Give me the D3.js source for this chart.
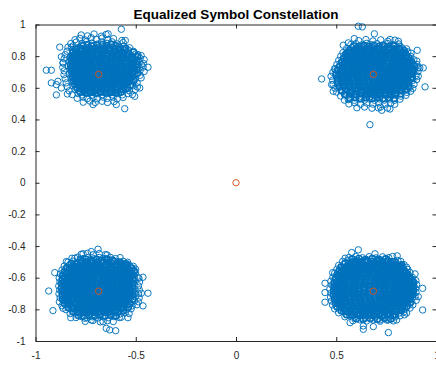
<!DOCTYPE html>
<html>
<head>
<meta charset="utf-8">
<script src="https://cdn.jsdelivr.net/npm/d3@7"></script>
<style>
  body { margin: 0; background: #fff; }
  svg { display: block; }
  text { font-family: "Liberation Sans", Arial, Helvetica, sans-serif; }
</style>
</head>
<body>
<svg id="chart" width="436" height="367"></svg>
<script>
// Equalized received symbols, grouped by quadrant (outer spread + dense core)
const symbolsTL = [
  [-0.572,0.970],[-0.638,0.941],[-0.552,0.899],[-0.569,0.899],[-0.879,0.857],[-0.871,0.796],[-0.946,0.711],[-0.921,0.711],
  [-0.439,0.730],[-0.896,0.555],[-0.841,0.561],[-0.555,0.468],[-0.597,0.494],[-0.713,0.494],[-0.921,0.631],[-0.896,0.620],
  [-0.863,0.757],[-0.888,0.641],[-0.871,0.599],[-0.489,0.810],[-0.472,0.747],[-0.480,0.599],[-0.505,0.546],[-0.821,0.857],
  [-0.772,0.934],[-0.741,0.928],[-0.708,0.940],[-0.672,0.926],[-0.648,0.937],
  [-0.803,0.904],[-0.779,0.913],[-0.751,0.902],[-0.722,0.916],[-0.697,0.906],[-0.668,0.914],[-0.639,0.903],[-0.611,0.911],
  [-0.824,0.879],[-0.797,0.889],[-0.768,0.881],[-0.746,0.892],[-0.718,0.883],[-0.692,0.876],[-0.671,0.889],[-0.643,0.881],[-0.619,0.891],[-0.592,0.877],[-0.563,0.886],
  [-0.838,0.857],[-0.812,0.865],[-0.783,0.854],[-0.762,0.863],[-0.733,0.853],[-0.709,0.867],[-0.687,0.857],[-0.658,0.864],[-0.637,0.855],[-0.607,0.866],[-0.586,0.857],[-0.558,0.862],[-0.531,0.853],
  [-0.843,0.831],[-0.817,0.839],[-0.792,0.828],[-0.766,0.841],[-0.738,0.833],[-0.717,0.826],[-0.689,0.839],[-0.662,0.830],[-0.642,0.842],[-0.613,0.829],[-0.588,0.837],[-0.567,0.828],[-0.538,0.839],[-0.512,0.831],
  [-0.852,0.809],[-0.823,0.803],[-0.801,0.815],[-0.773,0.805],[-0.752,0.813],[-0.722,0.802],[-0.703,0.815],[-0.674,0.807],[-0.652,0.813],[-0.622,0.803],[-0.601,0.811],[-0.573,0.805],[-0.552,0.815],[-0.522,0.805],[-0.502,0.812],[-0.473,0.804],
  [-0.857,0.784],[-0.828,0.791],[-0.807,0.781],[-0.778,0.789],[-0.757,0.779],[-0.727,0.791],[-0.706,0.783],[-0.678,0.792],[-0.657,0.779],[-0.628,0.788],[-0.607,0.781],[-0.578,0.791],[-0.557,0.783],[-0.528,0.789],[-0.507,0.779],[-0.478,0.786],[-0.458,0.778],
  [-0.862,0.757],[-0.833,0.765],[-0.812,0.754],[-0.783,0.763],[-0.762,0.753],[-0.733,0.766],[-0.712,0.757],[-0.683,0.763],[-0.662,0.753],[-0.633,0.765],[-0.612,0.757],[-0.583,0.763],[-0.562,0.755],[-0.533,0.765],[-0.512,0.757],[-0.483,0.763],[-0.462,0.754],
  [-0.864,0.729],[-0.838,0.739],[-0.817,0.731],[-0.788,0.739],[-0.767,0.728],[-0.738,0.737],[-0.717,0.727],[-0.688,0.739],[-0.667,0.731],[-0.638,0.739],[-0.617,0.729],[-0.588,0.737],[-0.567,0.727],[-0.538,0.737],[-0.517,0.729],[-0.488,0.739],[-0.463,0.731],
  [-0.857,0.707],[-0.828,0.715],[-0.807,0.705],[-0.778,0.713],[-0.757,0.703],[-0.728,0.715],[-0.707,0.707],[-0.678,0.713],[-0.657,0.703],[-0.628,0.715],[-0.607,0.707],[-0.578,0.713],[-0.557,0.705],[-0.528,0.715],[-0.507,0.707],[-0.478,0.711],[-0.458,0.703],
  [-0.858,0.683],[-0.832,0.689],[-0.803,0.679],[-0.782,0.689],[-0.753,0.681],[-0.732,0.691],[-0.703,0.679],[-0.682,0.687],[-0.653,0.691],[-0.632,0.681],[-0.603,0.689],[-0.582,0.679],[-0.553,0.687],[-0.532,0.681],[-0.503,0.689],[-0.478,0.679],
  [-0.852,0.657],[-0.823,0.665],[-0.802,0.655],[-0.773,0.663],[-0.752,0.654],[-0.723,0.665],[-0.702,0.657],[-0.673,0.663],[-0.652,0.654],[-0.623,0.665],[-0.602,0.657],[-0.573,0.663],[-0.552,0.655],[-0.523,0.663],[-0.502,0.655],[-0.473,0.663],
  [-0.847,0.631],[-0.818,0.639],[-0.797,0.629],[-0.768,0.639],[-0.747,0.631],[-0.718,0.639],[-0.697,0.629],[-0.668,0.637],[-0.647,0.631],[-0.618,0.639],[-0.597,0.629],[-0.568,0.637],[-0.547,0.631],[-0.518,0.639],[-0.493,0.631],
  [-0.842,0.607],[-0.813,0.613],[-0.792,0.604],[-0.763,0.613],[-0.742,0.605],[-0.713,0.615],[-0.692,0.605],[-0.663,0.613],[-0.642,0.604],[-0.613,0.613],[-0.592,0.605],[-0.563,0.615],[-0.542,0.607],[-0.513,0.613],[-0.492,0.605],
  [-0.832,0.581],[-0.803,0.589],[-0.782,0.579],[-0.753,0.589],[-0.732,0.581],[-0.703,0.589],[-0.682,0.579],[-0.653,0.587],[-0.632,0.581],[-0.603,0.589],[-0.582,0.579],[-0.553,0.587],[-0.532,0.581],[-0.503,0.589],
  [-0.817,0.557],[-0.788,0.563],[-0.767,0.555],[-0.738,0.565],[-0.717,0.555],[-0.688,0.563],[-0.667,0.557],[-0.638,0.565],[-0.617,0.555],[-0.588,0.563],[-0.567,0.555],[-0.538,0.563],[-0.517,0.557],
  [-0.792,0.534],[-0.763,0.541],[-0.742,0.531],[-0.713,0.539],[-0.692,0.531],[-0.663,0.541],[-0.642,0.533],[-0.613,0.541],[-0.592,0.531],[-0.563,0.539],
  [-0.762,0.509],[-0.728,0.516],[-0.702,0.507],[-0.668,0.515],[-0.641,0.507],[-0.608,0.513]
];
const coreTL = [
  [-0.764,0.866],[-0.741,0.872],[-0.719,0.863],[-0.694,0.869],[-0.667,0.871],[-0.646,0.866],[-0.622,0.873],[-0.598,0.864],
  [-0.799,0.843],[-0.776,0.849],[-0.749,0.845],[-0.726,0.842],[-0.701,0.848],[-0.676,0.844],[-0.651,0.849],[-0.627,0.843],[-0.601,0.847],[-0.577,0.842],[-0.551,0.848],
  [-0.812,0.822],[-0.787,0.817],[-0.761,0.823],[-0.737,0.819],[-0.713,0.824],[-0.687,0.818],[-0.664,0.822],[-0.638,0.817],[-0.612,0.823],[-0.589,0.818],[-0.563,0.821],[-0.537,0.817],[-0.511,0.823],
  [-0.816,0.794],[-0.790,0.799],[-0.766,0.795],[-0.742,0.798],[-0.716,0.793],[-0.691,0.799],[-0.667,0.795],[-0.641,0.798],[-0.617,0.794],[-0.592,0.799],[-0.566,0.795],[-0.541,0.798],[-0.517,0.793],[-0.492,0.797],
  [-0.821,0.774],[-0.796,0.769],[-0.771,0.773],[-0.746,0.768],[-0.720,0.774],[-0.695,0.770],[-0.671,0.774],[-0.645,0.769],[-0.620,0.773],[-0.596,0.768],[-0.571,0.774],[-0.546,0.770],[-0.521,0.773],[-0.496,0.768],
  [-0.824,0.743],[-0.799,0.748],[-0.774,0.744],[-0.749,0.747],[-0.724,0.742],[-0.699,0.748],[-0.674,0.743],[-0.649,0.747],[-0.624,0.744],[-0.599,0.749],[-0.574,0.743],[-0.549,0.747],[-0.524,0.742],[-0.499,0.748],
  [-0.821,0.723],[-0.795,0.718],[-0.770,0.722],[-0.745,0.717],[-0.720,0.723],[-0.695,0.719],[-0.670,0.722],[-0.645,0.718],[-0.620,0.723],[-0.595,0.717],[-0.570,0.722],[-0.545,0.718],[-0.520,0.723],[-0.495,0.717],
  [-0.818,0.698],[-0.792,0.693],[-0.767,0.697],[-0.742,0.692],[-0.717,0.698],[-0.692,0.694],[-0.667,0.697],[-0.642,0.693],[-0.617,0.698],[-0.592,0.692],[-0.567,0.697],[-0.542,0.693],[-0.517,0.698],[-0.492,0.694],
  [-0.815,0.673],[-0.790,0.668],[-0.765,0.672],[-0.740,0.667],[-0.715,0.673],[-0.690,0.669],[-0.665,0.672],[-0.640,0.668],[-0.615,0.673],[-0.590,0.667],[-0.565,0.672],[-0.540,0.668],[-0.515,0.673],
  [-0.810,0.648],[-0.785,0.643],[-0.760,0.647],[-0.735,0.642],[-0.710,0.648],[-0.685,0.644],[-0.660,0.647],[-0.635,0.643],[-0.610,0.648],[-0.585,0.642],[-0.560,0.647],[-0.535,0.643],[-0.510,0.648],
  [-0.804,0.623],[-0.778,0.618],[-0.753,0.622],[-0.728,0.617],[-0.703,0.623],[-0.678,0.619],[-0.653,0.622],[-0.628,0.618],[-0.603,0.623],[-0.578,0.617],[-0.553,0.622],[-0.528,0.618],
  [-0.792,0.598],[-0.767,0.593],[-0.742,0.597],[-0.717,0.592],[-0.692,0.598],[-0.667,0.594],[-0.642,0.597],[-0.617,0.593],[-0.592,0.598],[-0.567,0.592],[-0.542,0.597],
  [-0.775,0.573],[-0.750,0.568],[-0.725,0.572],[-0.700,0.567],[-0.675,0.573],[-0.650,0.569],[-0.625,0.572],[-0.600,0.568],[-0.575,0.573],
  [-0.771,0.838],[-0.745,0.835],[-0.717,0.840],[-0.690,0.836],[-0.664,0.839],[-0.636,0.834],[-0.609,0.839],[-0.583,0.835],[-0.556,0.838],
  [-0.804,0.811],[-0.778,0.808],[-0.751,0.813],[-0.724,0.809],[-0.697,0.812],[-0.670,0.807],[-0.643,0.812],[-0.616,0.808],[-0.590,0.813],[-0.563,0.809],[-0.536,0.812],
  [-0.811,0.786],[-0.784,0.783],[-0.757,0.788],[-0.731,0.784],[-0.704,0.787],[-0.677,0.782],[-0.650,0.787],[-0.623,0.783],[-0.596,0.788],[-0.570,0.784],[-0.543,0.787],[-0.517,0.782],
  [-0.813,0.760],[-0.787,0.757],[-0.760,0.762],[-0.733,0.758],[-0.706,0.761],[-0.679,0.756],[-0.652,0.761],[-0.625,0.757],[-0.598,0.762],[-0.572,0.758],[-0.545,0.761],[-0.518,0.756],
  [-0.810,0.734],[-0.783,0.731],[-0.756,0.736],[-0.729,0.732],[-0.702,0.735],[-0.675,0.730],[-0.648,0.735],[-0.621,0.731],[-0.594,0.736],[-0.568,0.732],[-0.541,0.735],[-0.514,0.730],
  [-0.808,0.708],[-0.781,0.705],[-0.754,0.710],[-0.727,0.706],[-0.700,0.709],[-0.673,0.704],[-0.646,0.709],[-0.619,0.705],[-0.592,0.710],[-0.566,0.706],[-0.539,0.709],[-0.512,0.704],
  [-0.805,0.682],[-0.778,0.679],[-0.751,0.684],[-0.724,0.680],[-0.697,0.683],[-0.670,0.678],[-0.643,0.683],[-0.616,0.679],[-0.589,0.684],[-0.563,0.680],[-0.536,0.683],
  [-0.799,0.656],[-0.772,0.653],[-0.745,0.658],[-0.718,0.654],[-0.691,0.657],[-0.664,0.652],[-0.637,0.657],[-0.610,0.653],[-0.583,0.658],[-0.557,0.654],[-0.530,0.657],
  [-0.791,0.630],[-0.764,0.627],[-0.737,0.632],[-0.710,0.628],[-0.683,0.631],[-0.656,0.626],[-0.629,0.631],[-0.602,0.627],[-0.575,0.632],[-0.549,0.628],
  [-0.779,0.604],[-0.752,0.601],[-0.725,0.606],[-0.698,0.602],[-0.671,0.605],[-0.644,0.600],[-0.617,0.605],[-0.590,0.601],[-0.563,0.606],
  [-0.758,0.580],[-0.731,0.577],[-0.704,0.582],[-0.677,0.578],[-0.650,0.581],[-0.623,0.576],[-0.596,0.581]
];

const symbolsTR = [
  [0.610,0.989],[0.630,0.985],[0.690,0.941],[0.590,0.911],[0.535,0.869],[0.560,0.884],[0.585,0.837],[0.555,0.825],
  [0.768,0.905],[0.810,0.894],[0.785,0.863],[0.818,0.863],[0.904,0.837],[0.427,0.656],[0.943,0.606],[0.909,0.673],
  [0.934,0.726],[0.909,0.726],[0.668,0.367],[0.768,0.466],[0.727,0.458],[0.710,0.473],[0.485,0.578],[0.477,0.620],[0.494,0.715],[0.560,0.525],
  [0.612,0.898],[0.648,0.905],[0.683,0.896],[0.722,0.903],[0.757,0.894],[0.793,0.901],
  [0.573,0.873],[0.598,0.879],[0.627,0.871],[0.652,0.881],[0.678,0.872],[0.703,0.879],[0.731,0.870],[0.756,0.880],[0.783,0.872],[0.812,0.877],
  [0.552,0.848],[0.578,0.854],[0.602,0.846],[0.628,0.856],[0.652,0.847],[0.678,0.854],[0.703,0.845],[0.728,0.855],[0.753,0.847],[0.778,0.853],[0.803,0.845],[0.828,0.852],[0.851,0.846],
  [0.533,0.822],[0.557,0.828],[0.583,0.820],[0.607,0.830],[0.632,0.821],[0.657,0.828],[0.682,0.820],[0.707,0.829],[0.732,0.821],[0.757,0.828],[0.782,0.820],[0.807,0.829],[0.832,0.822],[0.857,0.827],[0.873,0.819],
  [0.522,0.799],[0.547,0.805],[0.572,0.797],[0.597,0.806],[0.622,0.798],[0.647,0.804],[0.672,0.796],[0.697,0.805],[0.722,0.797],[0.747,0.804],[0.772,0.796],[0.797,0.805],[0.822,0.797],[0.847,0.804],[0.872,0.798],
  [0.512,0.773],[0.537,0.779],[0.562,0.771],[0.587,0.780],[0.612,0.772],[0.637,0.779],[0.662,0.771],[0.687,0.780],[0.712,0.772],[0.737,0.779],[0.762,0.771],[0.787,0.780],[0.812,0.772],[0.837,0.778],[0.862,0.771],[0.887,0.777],[0.902,0.769],
  [0.503,0.748],[0.528,0.754],[0.553,0.746],[0.578,0.755],[0.603,0.747],[0.628,0.754],[0.653,0.746],[0.678,0.755],[0.703,0.747],[0.728,0.754],[0.753,0.746],[0.778,0.755],[0.803,0.747],[0.828,0.754],[0.853,0.746],[0.878,0.753],[0.903,0.747],
  [0.492,0.722],[0.517,0.729],[0.542,0.721],[0.567,0.730],[0.592,0.722],[0.617,0.729],[0.642,0.720],[0.667,0.730],[0.692,0.722],[0.717,0.729],[0.742,0.721],[0.767,0.730],[0.792,0.722],[0.817,0.729],[0.842,0.721],[0.867,0.728],[0.892,0.720],[0.917,0.726],
  [0.483,0.698],[0.508,0.704],[0.533,0.696],[0.558,0.705],[0.583,0.697],[0.608,0.704],[0.633,0.696],[0.658,0.705],[0.683,0.697],[0.708,0.704],[0.733,0.696],[0.758,0.705],[0.783,0.697],[0.808,0.704],[0.833,0.696],[0.858,0.703],[0.883,0.697],[0.908,0.702],
  [0.474,0.673],[0.498,0.679],[0.523,0.671],[0.548,0.680],[0.573,0.672],[0.598,0.679],[0.623,0.671],[0.648,0.680],[0.673,0.672],[0.698,0.679],[0.723,0.671],[0.748,0.680],[0.773,0.672],[0.798,0.679],[0.823,0.671],[0.848,0.678],[0.873,0.671],[0.898,0.677],
  [0.482,0.648],[0.507,0.654],[0.532,0.646],[0.557,0.655],[0.582,0.647],[0.607,0.654],[0.632,0.646],[0.657,0.655],[0.682,0.647],[0.707,0.654],[0.732,0.646],[0.757,0.655],[0.782,0.647],[0.807,0.654],[0.832,0.646],[0.857,0.653],[0.882,0.647],[0.901,0.652],
  [0.484,0.622],[0.511,0.629],[0.536,0.621],[0.561,0.630],[0.586,0.622],[0.611,0.629],[0.636,0.621],[0.661,0.630],[0.686,0.622],[0.711,0.629],[0.736,0.621],[0.761,0.630],[0.786,0.622],[0.811,0.629],[0.836,0.621],[0.861,0.628],[0.888,0.622],
  [0.493,0.598],[0.518,0.604],[0.543,0.596],[0.568,0.605],[0.593,0.597],[0.618,0.604],[0.643,0.596],[0.668,0.605],[0.693,0.597],[0.718,0.604],[0.743,0.596],[0.768,0.605],[0.793,0.597],[0.818,0.604],[0.843,0.596],[0.868,0.603],[0.882,0.596],
  [0.502,0.573],[0.527,0.579],[0.552,0.571],[0.577,0.580],[0.602,0.572],[0.627,0.579],[0.652,0.571],[0.677,0.580],[0.702,0.572],[0.727,0.579],[0.752,0.571],[0.777,0.580],[0.802,0.572],[0.827,0.579],[0.852,0.571],[0.871,0.578],
  [0.522,0.548],[0.547,0.554],[0.572,0.546],[0.597,0.555],[0.622,0.547],[0.647,0.554],[0.672,0.546],[0.697,0.555],[0.722,0.547],[0.747,0.554],[0.772,0.546],[0.797,0.555],[0.822,0.547],[0.848,0.553],
  [0.541,0.522],[0.566,0.529],[0.591,0.521],[0.616,0.530],[0.641,0.522],[0.666,0.529],[0.691,0.521],[0.716,0.530],[0.741,0.522],[0.766,0.529],[0.791,0.521],[0.818,0.528],
  [0.563,0.498],[0.592,0.505],[0.621,0.496],[0.652,0.504],[0.683,0.497],[0.712,0.505],[0.743,0.497],[0.772,0.503],[0.792,0.496],
  [0.603,0.474],[0.641,0.479],[0.678,0.471],[0.721,0.478],[0.756,0.472]
];
const coreTR = [
  [0.588,0.863],[0.613,0.859],[0.638,0.865],[0.663,0.861],[0.688,0.866],[0.713,0.860],[0.738,0.864],[0.763,0.859],[0.788,0.865],
  [0.566,0.838],[0.591,0.834],[0.616,0.840],[0.641,0.835],[0.666,0.839],[0.691,0.833],[0.716,0.840],[0.741,0.834],[0.766,0.838],[0.791,0.835],[0.816,0.839],[0.838,0.834],
  [0.547,0.810],[0.572,0.814],[0.597,0.809],[0.622,0.815],[0.647,0.810],[0.672,0.813],[0.697,0.808],[0.722,0.814],[0.747,0.810],[0.772,0.815],[0.797,0.809],[0.822,0.813],[0.847,0.808],
  [0.537,0.786],[0.562,0.790],[0.587,0.784],[0.612,0.789],[0.637,0.785],[0.662,0.790],[0.687,0.784],[0.712,0.788],[0.737,0.785],[0.762,0.790],[0.787,0.784],[0.812,0.789],[0.837,0.785],[0.862,0.789],
  [0.527,0.760],[0.552,0.764],[0.577,0.759],[0.602,0.764],[0.627,0.759],[0.652,0.763],[0.677,0.758],[0.702,0.764],[0.727,0.760],[0.752,0.763],[0.777,0.758],[0.802,0.764],[0.827,0.759],[0.852,0.763],[0.877,0.759],
  [0.517,0.735],[0.542,0.739],[0.567,0.734],[0.592,0.740],[0.617,0.734],[0.642,0.738],[0.667,0.733],[0.692,0.739],[0.717,0.735],[0.742,0.738],[0.767,0.733],[0.792,0.739],[0.817,0.734],[0.842,0.738],[0.867,0.733],[0.890,0.737],
  [0.507,0.710],[0.532,0.713],[0.557,0.708],[0.582,0.714],[0.607,0.709],[0.632,0.713],[0.657,0.708],[0.682,0.714],[0.707,0.709],[0.732,0.712],[0.757,0.707],[0.782,0.713],[0.807,0.709],[0.832,0.713],[0.857,0.708],[0.882,0.712],
  [0.500,0.686],[0.525,0.689],[0.550,0.684],[0.575,0.690],[0.600,0.685],[0.625,0.688],[0.650,0.683],[0.675,0.689],[0.700,0.685],[0.725,0.688],[0.750,0.683],[0.775,0.689],[0.800,0.684],[0.825,0.688],[0.850,0.683],[0.875,0.688],
  [0.505,0.660],[0.530,0.664],[0.555,0.659],[0.580,0.664],[0.605,0.659],[0.630,0.663],[0.655,0.658],[0.680,0.664],[0.705,0.660],[0.730,0.663],[0.755,0.658],[0.780,0.664],[0.805,0.659],[0.830,0.663],[0.855,0.658],[0.878,0.662],
  [0.508,0.635],[0.533,0.639],[0.558,0.634],[0.583,0.639],[0.608,0.634],[0.633,0.638],[0.658,0.633],[0.683,0.639],[0.708,0.635],[0.733,0.638],[0.758,0.633],[0.783,0.639],[0.808,0.634],[0.833,0.638],[0.860,0.633],
  [0.515,0.610],[0.540,0.614],[0.565,0.609],[0.590,0.614],[0.615,0.609],[0.640,0.613],[0.665,0.608],[0.690,0.614],[0.715,0.610],[0.740,0.613],[0.765,0.608],[0.790,0.614],[0.815,0.609],[0.840,0.613],[0.860,0.608],
  [0.525,0.585],[0.550,0.589],[0.575,0.584],[0.600,0.589],[0.625,0.584],[0.650,0.588],[0.675,0.583],[0.700,0.589],[0.725,0.585],[0.750,0.588],[0.775,0.583],[0.800,0.589],[0.825,0.584],[0.848,0.588],
  [0.543,0.560],[0.568,0.564],[0.593,0.559],[0.618,0.564],[0.643,0.559],[0.668,0.563],[0.693,0.558],[0.718,0.564],[0.743,0.560],[0.768,0.563],[0.793,0.558],[0.820,0.562],
  [0.568,0.535],[0.595,0.538],[0.622,0.533],[0.650,0.539],[0.678,0.534],[0.705,0.538],[0.733,0.533],[0.760,0.538],[0.788,0.534],
  [0.600,0.846],[0.627,0.843],[0.654,0.848],[0.681,0.844],[0.708,0.847],[0.735,0.842],[0.762,0.847],[0.789,0.843],[0.814,0.846],
  [0.566,0.821],[0.593,0.818],[0.620,0.823],[0.647,0.819],[0.674,0.822],[0.701,0.817],[0.728,0.822],[0.755,0.818],[0.782,0.823],[0.809,0.819],[0.836,0.822],
  [0.553,0.796],[0.580,0.793],[0.607,0.798],[0.634,0.794],[0.661,0.797],[0.688,0.792],[0.715,0.797],[0.742,0.793],[0.769,0.798],[0.796,0.794],[0.823,0.797],[0.850,0.792],
  [0.544,0.770],[0.571,0.767],[0.598,0.772],[0.625,0.768],[0.652,0.771],[0.679,0.766],[0.706,0.771],[0.733,0.767],[0.760,0.772],[0.787,0.768],[0.814,0.771],[0.841,0.766],[0.866,0.770],
  [0.536,0.744],[0.563,0.741],[0.590,0.746],[0.617,0.742],[0.644,0.745],[0.671,0.740],[0.698,0.745],[0.725,0.741],[0.752,0.746],[0.779,0.742],[0.806,0.745],[0.833,0.740],[0.860,0.745],
  [0.528,0.718],[0.555,0.715],[0.582,0.720],[0.609,0.716],[0.636,0.719],[0.663,0.714],[0.690,0.719],[0.717,0.715],[0.744,0.720],[0.771,0.716],[0.798,0.719],[0.825,0.714],[0.852,0.719],[0.876,0.715],
  [0.523,0.692],[0.550,0.689],[0.577,0.694],[0.604,0.690],[0.631,0.693],[0.658,0.688],[0.685,0.693],[0.712,0.689],[0.739,0.694],[0.766,0.690],[0.793,0.693],[0.820,0.688],[0.847,0.693],[0.872,0.689],
  [0.525,0.666],[0.552,0.663],[0.579,0.668],[0.606,0.664],[0.633,0.667],[0.660,0.662],[0.687,0.667],[0.714,0.663],[0.741,0.668],[0.768,0.664],[0.795,0.667],[0.822,0.662],[0.849,0.667],[0.872,0.663],
  [0.530,0.640],[0.557,0.637],[0.584,0.642],[0.611,0.638],[0.638,0.641],[0.665,0.636],[0.692,0.641],[0.719,0.637],[0.746,0.642],[0.773,0.638],[0.800,0.641],[0.827,0.636],[0.852,0.641],
  [0.537,0.614],[0.564,0.611],[0.591,0.616],[0.618,0.612],[0.645,0.615],[0.672,0.610],[0.699,0.615],[0.726,0.611],[0.753,0.616],[0.780,0.612],[0.807,0.615],[0.834,0.610],
  [0.550,0.588],[0.577,0.585],[0.604,0.590],[0.631,0.586],[0.658,0.589],[0.685,0.584],[0.712,0.589],[0.739,0.585],[0.766,0.590],[0.793,0.586],[0.820,0.589],
  [0.572,0.562],[0.600,0.559],[0.628,0.564],[0.656,0.560],[0.684,0.563],[0.712,0.558],[0.740,0.563],[0.768,0.559],[0.795,0.562]
];

const symbolsBL = [
  [-0.688,-0.420],[-0.722,-0.435],[-0.643,-0.456],[-0.763,-0.449],[-0.804,-0.477],[-0.846,-0.498],[-0.904,-0.568],[-0.934,-0.684],
  [-0.913,-0.808],[-0.863,-0.793],[-0.824,-0.853],[-0.439,-0.698],[-0.472,-0.698],[-0.464,-0.597],[-0.489,-0.599],[-0.464,-0.778],
  [-0.539,-0.853],[-0.572,-0.850],[-0.630,-0.930],[-0.600,-0.935],[-0.647,-0.920],[-0.663,-0.878],[-0.722,-0.867],[-0.755,-0.856],[-0.547,-0.525],[-0.572,-0.519],
  [-0.772,-0.452],[-0.741,-0.446],[-0.712,-0.455],[-0.682,-0.447],[-0.651,-0.454],
  [-0.818,-0.477],[-0.791,-0.471],[-0.763,-0.479],[-0.737,-0.472],[-0.708,-0.480],[-0.682,-0.472],[-0.653,-0.478],[-0.627,-0.471],[-0.601,-0.479],[-0.578,-0.473],
  [-0.838,-0.502],[-0.813,-0.496],[-0.788,-0.504],[-0.763,-0.497],[-0.738,-0.505],[-0.713,-0.497],[-0.688,-0.503],[-0.663,-0.496],[-0.638,-0.504],[-0.613,-0.497],[-0.588,-0.503],[-0.563,-0.496],[-0.541,-0.502],
  [-0.857,-0.527],[-0.832,-0.521],[-0.807,-0.529],[-0.782,-0.522],[-0.757,-0.530],[-0.732,-0.522],[-0.707,-0.528],[-0.682,-0.521],[-0.657,-0.529],[-0.632,-0.522],[-0.607,-0.528],[-0.582,-0.521],[-0.557,-0.529],[-0.532,-0.522],[-0.512,-0.528],
  [-0.868,-0.552],[-0.843,-0.546],[-0.818,-0.554],[-0.793,-0.547],[-0.768,-0.555],[-0.743,-0.547],[-0.718,-0.553],[-0.693,-0.546],[-0.668,-0.554],[-0.643,-0.547],[-0.618,-0.553],[-0.593,-0.546],[-0.568,-0.554],[-0.543,-0.547],[-0.518,-0.553],[-0.501,-0.546],
  [-0.876,-0.577],[-0.851,-0.571],[-0.826,-0.579],[-0.801,-0.572],[-0.776,-0.580],[-0.751,-0.572],[-0.726,-0.578],[-0.701,-0.571],[-0.676,-0.579],[-0.651,-0.572],[-0.626,-0.578],[-0.601,-0.571],[-0.576,-0.579],[-0.551,-0.572],[-0.526,-0.578],[-0.501,-0.571],
  [-0.882,-0.602],[-0.857,-0.596],[-0.832,-0.604],[-0.807,-0.597],[-0.782,-0.605],[-0.757,-0.597],[-0.732,-0.603],[-0.707,-0.596],[-0.682,-0.604],[-0.657,-0.597],[-0.632,-0.603],[-0.607,-0.596],[-0.582,-0.604],[-0.557,-0.597],[-0.532,-0.603],[-0.507,-0.596],[-0.484,-0.603],
  [-0.878,-0.627],[-0.853,-0.621],[-0.828,-0.629],[-0.803,-0.622],[-0.778,-0.630],[-0.753,-0.622],[-0.728,-0.628],[-0.703,-0.621],[-0.678,-0.629],[-0.653,-0.622],[-0.628,-0.628],[-0.603,-0.621],[-0.578,-0.629],[-0.553,-0.622],[-0.528,-0.628],[-0.503,-0.621],[-0.481,-0.627],
  [-0.884,-0.652],[-0.859,-0.646],[-0.834,-0.654],[-0.809,-0.647],[-0.784,-0.655],[-0.759,-0.647],[-0.734,-0.653],[-0.709,-0.646],[-0.684,-0.654],[-0.659,-0.647],[-0.634,-0.653],[-0.609,-0.646],[-0.584,-0.654],[-0.559,-0.647],[-0.534,-0.653],[-0.509,-0.646],[-0.486,-0.652],
  [-0.879,-0.677],[-0.854,-0.671],[-0.829,-0.679],[-0.804,-0.672],[-0.779,-0.680],[-0.754,-0.672],[-0.729,-0.678],[-0.704,-0.671],[-0.679,-0.679],[-0.654,-0.672],[-0.629,-0.678],[-0.604,-0.671],[-0.579,-0.679],[-0.554,-0.672],[-0.529,-0.678],[-0.504,-0.671],[-0.482,-0.677],
  [-0.883,-0.702],[-0.858,-0.696],[-0.833,-0.704],[-0.808,-0.697],[-0.783,-0.705],[-0.758,-0.697],[-0.733,-0.703],[-0.708,-0.696],[-0.683,-0.704],[-0.658,-0.697],[-0.633,-0.703],[-0.608,-0.696],[-0.583,-0.704],[-0.558,-0.697],[-0.533,-0.703],[-0.508,-0.696],[-0.486,-0.702],
  [-0.877,-0.727],[-0.852,-0.721],[-0.827,-0.729],[-0.802,-0.722],[-0.777,-0.730],[-0.752,-0.722],[-0.727,-0.728],[-0.702,-0.721],[-0.677,-0.729],[-0.652,-0.722],[-0.627,-0.728],[-0.602,-0.721],[-0.577,-0.729],[-0.552,-0.722],[-0.527,-0.728],[-0.502,-0.721],[-0.483,-0.728],
  [-0.881,-0.752],[-0.856,-0.746],[-0.831,-0.754],[-0.806,-0.747],[-0.781,-0.755],[-0.756,-0.747],[-0.731,-0.753],[-0.706,-0.746],[-0.681,-0.754],[-0.656,-0.747],[-0.631,-0.753],[-0.606,-0.746],[-0.581,-0.754],[-0.556,-0.747],[-0.531,-0.753],[-0.506,-0.746],[-0.487,-0.752],
  [-0.868,-0.777],[-0.843,-0.771],[-0.818,-0.779],[-0.793,-0.772],[-0.768,-0.780],[-0.743,-0.772],[-0.718,-0.778],[-0.693,-0.771],[-0.668,-0.779],[-0.643,-0.772],[-0.618,-0.778],[-0.593,-0.771],[-0.568,-0.779],[-0.543,-0.772],[-0.518,-0.778],[-0.494,-0.771],
  [-0.848,-0.802],[-0.823,-0.796],[-0.798,-0.804],[-0.773,-0.797],[-0.748,-0.805],[-0.723,-0.797],[-0.698,-0.803],[-0.673,-0.796],[-0.648,-0.804],[-0.623,-0.797],[-0.598,-0.803],[-0.573,-0.796],[-0.548,-0.804],[-0.523,-0.797],
  [-0.827,-0.827],[-0.802,-0.821],[-0.777,-0.829],[-0.752,-0.822],[-0.727,-0.830],[-0.702,-0.822],[-0.677,-0.828],[-0.652,-0.821],[-0.627,-0.829],[-0.602,-0.822],[-0.577,-0.828],[-0.552,-0.821],[-0.533,-0.827],
  [-0.798,-0.852],[-0.771,-0.846],[-0.744,-0.854],[-0.717,-0.847],[-0.690,-0.855],[-0.663,-0.847],[-0.636,-0.853],[-0.609,-0.846],[-0.582,-0.852],
  [-0.752,-0.876],[-0.714,-0.871],[-0.677,-0.879],[-0.641,-0.872],[-0.612,-0.877]
];
const coreBL = [
  [-0.776,-0.488],[-0.750,-0.485],[-0.724,-0.490],[-0.697,-0.486],[-0.670,-0.491],[-0.644,-0.485],[-0.617,-0.489],
  [-0.822,-0.512],[-0.797,-0.516],[-0.772,-0.510],[-0.747,-0.515],[-0.722,-0.511],[-0.697,-0.516],[-0.672,-0.510],[-0.647,-0.514],[-0.622,-0.510],[-0.597,-0.515],[-0.572,-0.511],[-0.548,-0.514],
  [-0.844,-0.538],[-0.819,-0.541],[-0.794,-0.536],[-0.769,-0.541],[-0.744,-0.535],[-0.719,-0.540],[-0.694,-0.536],[-0.669,-0.541],[-0.644,-0.535],[-0.619,-0.539],[-0.594,-0.534],[-0.569,-0.540],[-0.544,-0.536],[-0.520,-0.540],
  [-0.855,-0.563],[-0.830,-0.566],[-0.805,-0.561],[-0.780,-0.566],[-0.755,-0.560],[-0.730,-0.565],[-0.705,-0.561],[-0.680,-0.566],[-0.655,-0.560],[-0.630,-0.564],[-0.605,-0.559],[-0.580,-0.565],[-0.555,-0.561],[-0.530,-0.565],[-0.508,-0.560],
  [-0.864,-0.588],[-0.839,-0.591],[-0.814,-0.586],[-0.789,-0.591],[-0.764,-0.585],[-0.739,-0.590],[-0.714,-0.586],[-0.689,-0.591],[-0.664,-0.585],[-0.639,-0.589],[-0.614,-0.584],[-0.589,-0.590],[-0.564,-0.586],[-0.539,-0.590],[-0.514,-0.585],
  [-0.866,-0.613],[-0.841,-0.616],[-0.816,-0.611],[-0.791,-0.616],[-0.766,-0.610],[-0.741,-0.615],[-0.716,-0.611],[-0.691,-0.616],[-0.666,-0.610],[-0.641,-0.614],[-0.616,-0.609],[-0.591,-0.615],[-0.566,-0.611],[-0.541,-0.615],[-0.516,-0.610],
  [-0.868,-0.638],[-0.843,-0.641],[-0.818,-0.636],[-0.793,-0.641],[-0.768,-0.635],[-0.743,-0.640],[-0.718,-0.636],[-0.693,-0.641],[-0.668,-0.635],[-0.643,-0.639],[-0.618,-0.634],[-0.593,-0.640],[-0.568,-0.636],[-0.543,-0.640],[-0.518,-0.635],
  [-0.869,-0.663],[-0.844,-0.666],[-0.819,-0.661],[-0.794,-0.666],[-0.769,-0.660],[-0.744,-0.665],[-0.719,-0.661],[-0.694,-0.666],[-0.669,-0.660],[-0.644,-0.664],[-0.619,-0.659],[-0.594,-0.665],[-0.569,-0.661],[-0.544,-0.665],[-0.519,-0.660],
  [-0.867,-0.688],[-0.842,-0.691],[-0.817,-0.686],[-0.792,-0.691],[-0.767,-0.685],[-0.742,-0.690],[-0.717,-0.686],[-0.692,-0.691],[-0.667,-0.685],[-0.642,-0.689],[-0.617,-0.684],[-0.592,-0.690],[-0.567,-0.686],[-0.542,-0.690],[-0.517,-0.685],
  [-0.865,-0.713],[-0.840,-0.716],[-0.815,-0.711],[-0.790,-0.716],[-0.765,-0.710],[-0.740,-0.715],[-0.715,-0.711],[-0.690,-0.716],[-0.665,-0.710],[-0.640,-0.714],[-0.615,-0.709],[-0.590,-0.715],[-0.565,-0.711],[-0.540,-0.715],[-0.517,-0.710],
  [-0.863,-0.738],[-0.838,-0.741],[-0.813,-0.736],[-0.788,-0.741],[-0.763,-0.735],[-0.738,-0.740],[-0.713,-0.736],[-0.688,-0.741],[-0.663,-0.735],[-0.638,-0.739],[-0.613,-0.734],[-0.588,-0.740],[-0.563,-0.736],[-0.538,-0.740],[-0.516,-0.735],
  [-0.855,-0.763],[-0.830,-0.766],[-0.805,-0.761],[-0.780,-0.766],[-0.755,-0.760],[-0.730,-0.765],[-0.705,-0.761],[-0.680,-0.766],[-0.655,-0.760],[-0.630,-0.764],[-0.605,-0.759],[-0.580,-0.765],[-0.555,-0.761],[-0.530,-0.765],
  [-0.836,-0.788],[-0.811,-0.791],[-0.786,-0.786],[-0.761,-0.791],[-0.736,-0.785],[-0.711,-0.790],[-0.686,-0.786],[-0.661,-0.791],[-0.636,-0.785],[-0.611,-0.789],[-0.586,-0.784],[-0.561,-0.790],[-0.538,-0.786],
  [-0.813,-0.813],[-0.788,-0.816],[-0.763,-0.811],[-0.738,-0.816],[-0.713,-0.810],[-0.688,-0.815],[-0.663,-0.811],[-0.638,-0.816],[-0.613,-0.810],[-0.588,-0.814],[-0.563,-0.809],
  [-0.786,-0.838],[-0.760,-0.841],[-0.733,-0.836],[-0.706,-0.841],[-0.679,-0.835],[-0.652,-0.840],[-0.625,-0.836],[-0.598,-0.840],
  [-0.770,-0.500],[-0.743,-0.503],[-0.716,-0.498],[-0.689,-0.502],[-0.662,-0.499],[-0.635,-0.504],[-0.608,-0.499],[-0.583,-0.503],
  [-0.812,-0.526],[-0.785,-0.529],[-0.758,-0.524],[-0.731,-0.528],[-0.704,-0.525],[-0.677,-0.530],[-0.650,-0.525],[-0.623,-0.529],[-0.596,-0.524],[-0.569,-0.528],[-0.543,-0.525],
  [-0.833,-0.552],[-0.806,-0.555],[-0.779,-0.550],[-0.752,-0.554],[-0.725,-0.551],[-0.698,-0.556],[-0.671,-0.551],[-0.644,-0.555],[-0.617,-0.550],[-0.590,-0.554],[-0.563,-0.551],[-0.537,-0.556],
  [-0.846,-0.578],[-0.819,-0.581],[-0.792,-0.576],[-0.765,-0.580],[-0.738,-0.577],[-0.711,-0.582],[-0.684,-0.577],[-0.657,-0.581],[-0.630,-0.576],[-0.603,-0.580],[-0.576,-0.577],[-0.549,-0.582],[-0.524,-0.577],
  [-0.853,-0.604],[-0.826,-0.607],[-0.799,-0.602],[-0.772,-0.606],[-0.745,-0.603],[-0.718,-0.608],[-0.691,-0.603],[-0.664,-0.607],[-0.637,-0.602],[-0.610,-0.606],[-0.583,-0.603],[-0.556,-0.608],[-0.529,-0.603],
  [-0.856,-0.630],[-0.829,-0.633],[-0.802,-0.628],[-0.775,-0.632],[-0.748,-0.629],[-0.721,-0.634],[-0.694,-0.629],[-0.667,-0.633],[-0.640,-0.628],[-0.613,-0.632],[-0.586,-0.629],[-0.559,-0.634],[-0.532,-0.629],
  [-0.857,-0.656],[-0.830,-0.659],[-0.803,-0.654],[-0.776,-0.658],[-0.749,-0.655],[-0.722,-0.660],[-0.695,-0.655],[-0.668,-0.659],[-0.641,-0.654],[-0.614,-0.658],[-0.587,-0.655],[-0.560,-0.660],[-0.533,-0.655],
  [-0.855,-0.682],[-0.828,-0.685],[-0.801,-0.680],[-0.774,-0.684],[-0.747,-0.681],[-0.720,-0.686],[-0.693,-0.681],[-0.666,-0.685],[-0.639,-0.680],[-0.612,-0.684],[-0.585,-0.681],[-0.558,-0.686],[-0.531,-0.681],
  [-0.852,-0.708],[-0.825,-0.711],[-0.798,-0.706],[-0.771,-0.710],[-0.744,-0.707],[-0.717,-0.712],[-0.690,-0.707],[-0.663,-0.711],[-0.636,-0.706],[-0.609,-0.710],[-0.582,-0.707],[-0.555,-0.712],[-0.530,-0.707],
  [-0.846,-0.734],[-0.819,-0.737],[-0.792,-0.732],[-0.765,-0.736],[-0.738,-0.733],[-0.711,-0.738],[-0.684,-0.733],[-0.657,-0.737],[-0.630,-0.732],[-0.603,-0.736],[-0.576,-0.733],[-0.549,-0.738],
  [-0.834,-0.760],[-0.807,-0.763],[-0.780,-0.758],[-0.753,-0.762],[-0.726,-0.759],[-0.699,-0.764],[-0.672,-0.759],[-0.645,-0.763],[-0.618,-0.758],[-0.591,-0.762],[-0.564,-0.759],
  [-0.816,-0.786],[-0.789,-0.789],[-0.762,-0.784],[-0.735,-0.788],[-0.708,-0.785],[-0.681,-0.790],[-0.654,-0.785],[-0.627,-0.789],[-0.600,-0.784],[-0.574,-0.788],
  [-0.790,-0.812],[-0.763,-0.815],[-0.736,-0.810],[-0.709,-0.814],[-0.682,-0.811],[-0.655,-0.816],[-0.628,-0.811],[-0.602,-0.815]
];

const symbolsBR = [
  [0.610,-0.424],[0.577,-0.441],[0.544,-0.477],[0.693,-0.449],[0.804,-0.462],[0.482,-0.568],[0.444,-0.635],[0.444,-0.694],
  [0.444,-0.755],[0.931,-0.667],[0.931,-0.804],[0.876,-0.698],[0.909,-0.720],[0.868,-0.597],[0.893,-0.576],[0.760,-0.947],
  [0.635,-0.926],[0.635,-0.905],[0.685,-0.909],[0.569,-0.884],[0.840,-0.835],[0.801,-0.867],[0.718,-0.867],[0.760,-0.867],[0.851,-0.534],[0.826,-0.540],
  [0.563,-0.472],[0.597,-0.466],[0.631,-0.474],[0.664,-0.467],[0.698,-0.475],[0.731,-0.468],[0.762,-0.473],[0.781,-0.466],
  [0.532,-0.497],[0.557,-0.491],[0.582,-0.499],[0.607,-0.492],[0.632,-0.500],[0.657,-0.492],[0.682,-0.498],[0.707,-0.491],[0.732,-0.499],[0.757,-0.492],[0.782,-0.498],[0.807,-0.491],[0.822,-0.497],
  [0.512,-0.522],[0.537,-0.516],[0.562,-0.524],[0.587,-0.517],[0.612,-0.525],[0.637,-0.517],[0.662,-0.523],[0.687,-0.516],[0.712,-0.524],[0.737,-0.517],[0.762,-0.523],[0.787,-0.516],[0.812,-0.524],[0.838,-0.518],
  [0.503,-0.547],[0.528,-0.541],[0.553,-0.549],[0.578,-0.542],[0.603,-0.550],[0.628,-0.542],[0.653,-0.548],[0.678,-0.541],[0.703,-0.549],[0.728,-0.542],[0.753,-0.548],[0.778,-0.541],[0.803,-0.549],[0.828,-0.542],[0.857,-0.548],
  [0.492,-0.572],[0.517,-0.566],[0.542,-0.574],[0.567,-0.567],[0.592,-0.575],[0.617,-0.567],[0.642,-0.573],[0.667,-0.566],[0.692,-0.574],[0.717,-0.567],[0.742,-0.573],[0.767,-0.566],[0.792,-0.574],[0.817,-0.567],[0.842,-0.573],[0.868,-0.567],
  [0.483,-0.597],[0.508,-0.591],[0.533,-0.599],[0.558,-0.592],[0.583,-0.600],[0.608,-0.592],[0.633,-0.598],[0.658,-0.591],[0.683,-0.599],[0.708,-0.592],[0.733,-0.598],[0.758,-0.591],[0.783,-0.599],[0.808,-0.592],[0.833,-0.598],[0.858,-0.591],[0.879,-0.597],
  [0.473,-0.622],[0.498,-0.616],[0.523,-0.624],[0.548,-0.617],[0.573,-0.625],[0.598,-0.617],[0.623,-0.623],[0.648,-0.616],[0.673,-0.624],[0.698,-0.617],[0.723,-0.623],[0.748,-0.616],[0.773,-0.624],[0.798,-0.617],[0.823,-0.623],[0.848,-0.616],[0.873,-0.624],[0.897,-0.618],
  [0.478,-0.647],[0.503,-0.641],[0.528,-0.649],[0.553,-0.642],[0.578,-0.650],[0.603,-0.642],[0.628,-0.648],[0.653,-0.641],[0.678,-0.649],[0.703,-0.642],[0.728,-0.648],[0.753,-0.641],[0.778,-0.649],[0.803,-0.642],[0.828,-0.648],[0.853,-0.641],[0.878,-0.649],[0.901,-0.643],
  [0.468,-0.672],[0.493,-0.666],[0.518,-0.674],[0.543,-0.667],[0.568,-0.675],[0.593,-0.667],[0.618,-0.673],[0.643,-0.666],[0.668,-0.674],[0.693,-0.667],[0.718,-0.673],[0.743,-0.666],[0.768,-0.674],[0.793,-0.667],[0.818,-0.673],[0.843,-0.666],[0.868,-0.674],[0.895,-0.668],
  [0.474,-0.697],[0.499,-0.691],[0.524,-0.699],[0.549,-0.692],[0.574,-0.700],[0.599,-0.692],[0.624,-0.698],[0.649,-0.691],[0.674,-0.699],[0.699,-0.692],[0.724,-0.698],[0.749,-0.691],[0.774,-0.699],[0.799,-0.692],[0.824,-0.698],[0.849,-0.691],[0.874,-0.699],[0.898,-0.693],
  [0.471,-0.722],[0.496,-0.716],[0.521,-0.724],[0.546,-0.717],[0.571,-0.725],[0.596,-0.717],[0.621,-0.723],[0.646,-0.716],[0.671,-0.724],[0.696,-0.717],[0.721,-0.723],[0.746,-0.716],[0.771,-0.724],[0.796,-0.717],[0.821,-0.723],[0.846,-0.716],[0.871,-0.724],[0.893,-0.718],
  [0.476,-0.747],[0.501,-0.741],[0.526,-0.749],[0.551,-0.742],[0.576,-0.750],[0.601,-0.742],[0.626,-0.748],[0.651,-0.741],[0.676,-0.749],[0.701,-0.742],[0.726,-0.748],[0.751,-0.741],[0.776,-0.749],[0.801,-0.742],[0.826,-0.748],[0.851,-0.741],[0.876,-0.749],[0.899,-0.743],
  [0.481,-0.772],[0.506,-0.766],[0.531,-0.774],[0.556,-0.767],[0.581,-0.775],[0.606,-0.767],[0.631,-0.773],[0.656,-0.766],[0.681,-0.774],[0.706,-0.767],[0.731,-0.773],[0.756,-0.766],[0.781,-0.774],[0.806,-0.767],[0.831,-0.773],[0.856,-0.766],[0.882,-0.772],
  [0.492,-0.797],[0.517,-0.791],[0.542,-0.799],[0.567,-0.792],[0.592,-0.800],[0.617,-0.792],[0.642,-0.798],[0.667,-0.791],[0.692,-0.799],[0.717,-0.792],[0.742,-0.798],[0.767,-0.791],[0.792,-0.799],[0.817,-0.792],[0.842,-0.798],[0.868,-0.792],
  [0.512,-0.822],[0.537,-0.816],[0.562,-0.824],[0.587,-0.817],[0.612,-0.825],[0.637,-0.817],[0.662,-0.823],[0.687,-0.816],[0.712,-0.824],[0.737,-0.817],[0.762,-0.823],[0.787,-0.816],[0.812,-0.824],[0.837,-0.817],[0.851,-0.823],
  [0.543,-0.847],[0.568,-0.841],[0.593,-0.849],[0.618,-0.842],[0.643,-0.850],[0.668,-0.842],[0.693,-0.848],[0.718,-0.841],[0.743,-0.849],[0.768,-0.842],[0.793,-0.848],[0.818,-0.841],
  [0.583,-0.872],[0.617,-0.866],[0.651,-0.874],[0.684,-0.867],[0.719,-0.875],[0.752,-0.868],[0.785,-0.873]
];
const coreBR = [
  [0.580,-0.484],[0.613,-0.480],[0.647,-0.486],[0.680,-0.481],[0.714,-0.487],[0.747,-0.482],
  [0.545,-0.508],[0.570,-0.511],[0.595,-0.506],[0.620,-0.511],[0.645,-0.505],[0.670,-0.510],[0.695,-0.506],[0.720,-0.511],[0.745,-0.505],[0.770,-0.509],[0.795,-0.504],
  [0.525,-0.533],[0.550,-0.536],[0.575,-0.531],[0.600,-0.536],[0.625,-0.530],[0.650,-0.535],[0.675,-0.531],[0.700,-0.536],[0.725,-0.530],[0.750,-0.534],[0.775,-0.529],[0.800,-0.535],[0.825,-0.531],
  [0.515,-0.558],[0.540,-0.561],[0.565,-0.556],[0.590,-0.561],[0.615,-0.555],[0.640,-0.560],[0.665,-0.556],[0.690,-0.561],[0.715,-0.555],[0.740,-0.559],[0.765,-0.554],[0.790,-0.560],[0.815,-0.556],[0.840,-0.560],
  [0.505,-0.583],[0.530,-0.586],[0.555,-0.581],[0.580,-0.586],[0.605,-0.580],[0.630,-0.585],[0.655,-0.581],[0.680,-0.586],[0.705,-0.580],[0.730,-0.584],[0.755,-0.579],[0.780,-0.585],[0.805,-0.581],[0.830,-0.585],[0.855,-0.580],
  [0.496,-0.608],[0.521,-0.611],[0.546,-0.606],[0.571,-0.611],[0.596,-0.605],[0.621,-0.610],[0.646,-0.606],[0.671,-0.611],[0.696,-0.605],[0.721,-0.609],[0.746,-0.604],[0.771,-0.610],[0.796,-0.606],[0.821,-0.610],[0.846,-0.605],[0.871,-0.609],
  [0.490,-0.633],[0.515,-0.636],[0.540,-0.631],[0.565,-0.636],[0.590,-0.630],[0.615,-0.635],[0.640,-0.631],[0.665,-0.636],[0.690,-0.630],[0.715,-0.634],[0.740,-0.629],[0.765,-0.635],[0.790,-0.631],[0.815,-0.635],[0.840,-0.630],[0.865,-0.634],[0.885,-0.630],
  [0.490,-0.658],[0.515,-0.661],[0.540,-0.656],[0.565,-0.661],[0.590,-0.655],[0.615,-0.660],[0.640,-0.656],[0.665,-0.661],[0.690,-0.655],[0.715,-0.659],[0.740,-0.654],[0.765,-0.660],[0.790,-0.656],[0.815,-0.660],[0.840,-0.655],[0.865,-0.659],[0.885,-0.655],
  [0.488,-0.683],[0.513,-0.686],[0.538,-0.681],[0.563,-0.686],[0.588,-0.680],[0.613,-0.685],[0.638,-0.681],[0.663,-0.686],[0.688,-0.680],[0.713,-0.684],[0.738,-0.679],[0.763,-0.685],[0.788,-0.681],[0.813,-0.685],[0.838,-0.680],[0.863,-0.684],[0.884,-0.680],
  [0.487,-0.708],[0.512,-0.711],[0.537,-0.706],[0.562,-0.711],[0.587,-0.705],[0.612,-0.710],[0.637,-0.706],[0.662,-0.711],[0.687,-0.705],[0.712,-0.709],[0.737,-0.704],[0.762,-0.710],[0.787,-0.706],[0.812,-0.710],[0.837,-0.705],[0.862,-0.709],[0.882,-0.705],
  [0.492,-0.733],[0.517,-0.736],[0.542,-0.731],[0.567,-0.736],[0.592,-0.730],[0.617,-0.735],[0.642,-0.731],[0.667,-0.736],[0.692,-0.730],[0.717,-0.734],[0.742,-0.729],[0.767,-0.735],[0.792,-0.731],[0.817,-0.735],[0.842,-0.730],[0.867,-0.734],
  [0.496,-0.758],[0.521,-0.761],[0.546,-0.756],[0.571,-0.761],[0.596,-0.755],[0.621,-0.760],[0.646,-0.756],[0.671,-0.761],[0.696,-0.755],[0.721,-0.759],[0.746,-0.754],[0.771,-0.760],[0.796,-0.756],[0.821,-0.760],[0.846,-0.755],[0.868,-0.759],
  [0.505,-0.783],[0.530,-0.786],[0.555,-0.781],[0.580,-0.786],[0.605,-0.780],[0.630,-0.785],[0.655,-0.781],[0.680,-0.786],[0.705,-0.780],[0.730,-0.784],[0.755,-0.779],[0.780,-0.785],[0.805,-0.781],[0.830,-0.785],[0.852,-0.780],
  [0.525,-0.808],[0.550,-0.811],[0.575,-0.806],[0.600,-0.811],[0.625,-0.805],[0.650,-0.810],[0.675,-0.806],[0.700,-0.811],[0.725,-0.805],[0.750,-0.809],[0.775,-0.804],[0.800,-0.810],[0.825,-0.806],
  [0.552,-0.833],[0.578,-0.836],[0.605,-0.831],[0.632,-0.836],[0.659,-0.830],[0.686,-0.835],[0.713,-0.831],[0.740,-0.836],[0.767,-0.830],[0.794,-0.834],
  [0.600,-0.858],[0.635,-0.861],[0.670,-0.856],[0.705,-0.861],[0.740,-0.855],[0.772,-0.859],
  [0.595,-0.497],[0.622,-0.500],[0.649,-0.495],[0.676,-0.499],[0.703,-0.496],[0.730,-0.501],[0.757,-0.496],[0.782,-0.500],
  [0.560,-0.521],[0.587,-0.524],[0.614,-0.519],[0.641,-0.523],[0.668,-0.520],[0.695,-0.525],[0.722,-0.520],[0.749,-0.524],[0.776,-0.519],[0.803,-0.523],[0.826,-0.520],
  [0.538,-0.546],[0.565,-0.549],[0.592,-0.544],[0.619,-0.548],[0.646,-0.545],[0.673,-0.550],[0.700,-0.545],[0.727,-0.549],[0.754,-0.544],[0.781,-0.548],[0.808,-0.545],[0.835,-0.550],
  [0.524,-0.572],[0.551,-0.575],[0.578,-0.570],[0.605,-0.574],[0.632,-0.571],[0.659,-0.576],[0.686,-0.571],[0.713,-0.575],[0.740,-0.570],[0.767,-0.574],[0.794,-0.571],[0.821,-0.576],[0.848,-0.571],
  [0.513,-0.598],[0.540,-0.601],[0.567,-0.596],[0.594,-0.600],[0.621,-0.597],[0.648,-0.602],[0.675,-0.597],[0.702,-0.601],[0.729,-0.596],[0.756,-0.600],[0.783,-0.597],[0.810,-0.602],[0.837,-0.597],[0.862,-0.601],
  [0.507,-0.624],[0.534,-0.627],[0.561,-0.622],[0.588,-0.626],[0.615,-0.623],[0.642,-0.628],[0.669,-0.623],[0.696,-0.627],[0.723,-0.622],[0.750,-0.626],[0.777,-0.623],[0.804,-0.628],[0.831,-0.623],[0.858,-0.627],[0.880,-0.622],
  [0.503,-0.650],[0.530,-0.653],[0.557,-0.648],[0.584,-0.652],[0.611,-0.649],[0.638,-0.654],[0.665,-0.649],[0.692,-0.653],[0.719,-0.648],[0.746,-0.652],[0.773,-0.649],[0.800,-0.654],[0.827,-0.649],[0.854,-0.653],[0.878,-0.648],
  [0.502,-0.676],[0.529,-0.679],[0.556,-0.674],[0.583,-0.678],[0.610,-0.675],[0.637,-0.680],[0.664,-0.675],[0.691,-0.679],[0.718,-0.674],[0.745,-0.678],[0.772,-0.675],[0.799,-0.680],[0.826,-0.675],[0.853,-0.679],[0.877,-0.674],
  [0.503,-0.702],[0.530,-0.705],[0.557,-0.700],[0.584,-0.704],[0.611,-0.701],[0.638,-0.706],[0.665,-0.701],[0.692,-0.705],[0.719,-0.700],[0.746,-0.704],[0.773,-0.701],[0.800,-0.706],[0.827,-0.701],[0.854,-0.705],[0.876,-0.700],
  [0.507,-0.728],[0.534,-0.731],[0.561,-0.726],[0.588,-0.730],[0.615,-0.727],[0.642,-0.732],[0.669,-0.727],[0.696,-0.731],[0.723,-0.726],[0.750,-0.730],[0.777,-0.727],[0.804,-0.732],[0.831,-0.727],[0.858,-0.731],
  [0.514,-0.754],[0.541,-0.757],[0.568,-0.752],[0.595,-0.756],[0.622,-0.753],[0.649,-0.758],[0.676,-0.753],[0.703,-0.757],[0.730,-0.752],[0.757,-0.756],[0.784,-0.753],[0.811,-0.758],[0.838,-0.753],
  [0.526,-0.780],[0.553,-0.783],[0.580,-0.778],[0.607,-0.782],[0.634,-0.779],[0.661,-0.784],[0.688,-0.779],[0.715,-0.783],[0.742,-0.778],[0.769,-0.782],[0.796,-0.779],[0.823,-0.784],
  [0.548,-0.806],[0.575,-0.809],[0.602,-0.804],[0.629,-0.808],[0.656,-0.805],[0.683,-0.810],[0.710,-0.805],[0.737,-0.809],[0.764,-0.804],[0.791,-0.808],[0.815,-0.805],
  [0.588,-0.832],[0.616,-0.835],[0.644,-0.830],[0.672,-0.834],[0.700,-0.831],[0.728,-0.836],[0.756,-0.831],[0.782,-0.835]
];

// Reference constellation points (plus the origin marker)
const referencePoints = [[-0.685,0.685],[0.685,0.685],[-0.685,-0.685],[0.685,-0.685],[0,0]];

const xTicks = [-1, -0.5, 0, 0.5, 1];
const xTickLabels = ["-1", "-0.5", "0", "0.5", "1"];
const yTicks = [-1, -0.8, -0.6, -0.4, -0.2, 0, 0.2, 0.4, 0.6, 0.8, 1];
const yTickLabels = ["-1", "-0.8", "-0.6", "-0.4", "-0.2", "0", "0.2", "0.4", "0.6", "0.8", "1"];
const titleText = "Equalized Symbol Constellation";

const svg = d3.select("#chart");
const plot = { left: 35.5, right: 436.5, top: 24.5, bottom: 341 };

const x = d3.scaleLinear().domain([-1, 1]).range([plot.left, plot.right]);
const y = d3.scaleLinear().domain([-1, 1]).range([plot.bottom, plot.top]);

const axisColor = "#262626";
const tickLen = 4;
const symbolColor = "#0072BD";
const refColor = "#D95319";
const markerR = 3.2;

// Markers: the sparse spread first, then the heavily overlapping cores
const spread = [].concat(symbolsTL, symbolsTR, symbolsBL, symbolsBR);
const cores = [].concat(coreTL, coreTR, coreBL, coreBR);

svg.append("g")
  .selectAll("circle")
  .data(spread)
  .join("circle")
  .attr("cx", d => x(d[0]))
  .attr("cy", d => y(d[1]))
  .attr("r", markerR)
  .attr("fill", "none")
  .attr("stroke", symbolColor)
  .attr("stroke-width", 0.95);

svg.append("g")
  .selectAll("circle")
  .data(cores)
  .join("circle")
  .attr("cx", d => x(d[0]))
  .attr("cy", d => y(d[1]))
  .attr("r", markerR)
  .attr("fill", "none")
  .attr("stroke", symbolColor)
  .attr("stroke-width", 1.6);

svg.append("g")
  .selectAll("circle")
  .data(referencePoints)
  .join("circle")
  .attr("cx", d => x(d[0]))
  .attr("cy", d => y(d[1]))
  .attr("r", markerR)
  .attr("fill", "none")
  .attr("stroke", refColor)
  .attr("stroke-width", 0.95);

// Axes (boxed, ticks pointing inward)
function styleAxis(g) {
  g.selectAll("path.domain").attr("stroke", axisColor).attr("stroke-width", 1);
  g.selectAll(".tick line").attr("stroke", axisColor).attr("stroke-width", 1);
  g.selectAll(".tick text").attr("fill", axisColor).style("font-size", "10px")
    .style("font-family", '"Liberation Sans", Arial, sans-serif');
}

svg.append("g")
  .attr("transform", `translate(0,${plot.bottom})`)
  .call(d3.axisBottom(x).tickValues(xTicks).tickSize(-tickLen).tickSizeOuter(0)
    .tickPadding(11).tickFormat((d, i) => xTickLabels[i]))
  .call(styleAxis);

svg.append("g")
  .attr("transform", `translate(0,${plot.top})`)
  .call(d3.axisTop(x).tickValues(xTicks).tickSize(-tickLen).tickSizeOuter(0).tickFormat(""))
  .call(styleAxis);

svg.append("g")
  .attr("transform", `translate(${plot.left},0)`)
  .call(d3.axisLeft(y).tickValues(yTicks).tickSize(-tickLen).tickSizeOuter(0)
    .tickPadding(10).tickFormat((d, i) => yTickLabels[i]))
  .call(styleAxis);

svg.append("g")
  .attr("transform", `translate(${plot.right},0)`)
  .call(d3.axisRight(y).tickValues(yTicks).tickSize(-tickLen).tickSizeOuter(0).tickFormat(""))
  .call(styleAxis);

// Title
svg.append("text")
  .attr("x", (plot.left + plot.right) / 2)
  .attr("y", 19)
  .attr("text-anchor", "middle")
  .attr("fill", "#000")
  .style("font-size", "13.5px")
  .style("font-weight", "bold")
  .text(titleText);
</script>
</body>
</html>
